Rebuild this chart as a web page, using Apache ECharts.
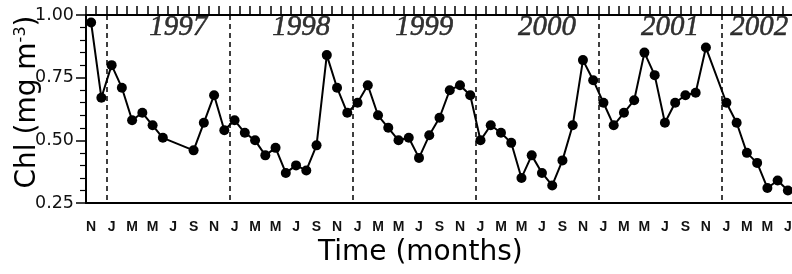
<!DOCTYPE html>
<html>
<head>
<meta charset="utf-8">
<script src="https://cdn.jsdelivr.net/npm/echarts@6/dist/echarts.min.js"></script>
<style>
  html, body { margin: 0; padding: 0; background: #fff; }
  #chart { width: 792px; height: 274px; }
</style>
</head>
<body>
<div id="chart"></div>
<script>
// monthly categories: Nov 1996 .. Jul 2002
var startYear = 1996, startMonth = 11, monthCount = 69;
var monthLetters = ['J', 'F', 'M', 'A', 'M', 'J', 'J', 'A', 'S', 'O', 'N', 'D'];

// Chl (mg m-3), one value per month, null = no data
var chl = [
  0.97, 0.67,
  0.80, 0.71, 0.58, 0.61, 0.56, 0.51, null, null, 0.46, 0.57, 0.68, 0.54,
  0.58, 0.53, 0.50, 0.44, 0.47, 0.37, 0.40, 0.38, 0.48, 0.84, 0.71, 0.61,
  0.65, 0.72, 0.60, 0.55, 0.50, 0.51, 0.43, 0.52, 0.59, 0.70, 0.72, 0.68,
  0.50, 0.56, 0.53, 0.49, 0.35, 0.44, 0.37, 0.32, 0.42, 0.56, 0.82, 0.74,
  0.65, 0.56, 0.61, 0.66, 0.85, 0.76, 0.57, 0.65, 0.68, 0.69, 0.87, null,
  0.65, 0.57, 0.45, 0.41, 0.31, 0.34, 0.30
];

var years = [1997, 1998, 1999, 2000, 2001, 2002];
var yTicks = [0.25, 0.50, 0.75, 1.00];

var categories = [];
for (var i = 0; i < monthCount; i++) {
  var m = (startMonth - 1 + i) % 12;
  var y = startYear + Math.floor((startMonth - 1 + i) / 12);
  categories.push(y + '-' + (m + 1));
}

// year labels sit a little right of each year's middle (value axis in months)
var yearLabels = years.map(function (yr) {
  var start = (yr - startYear) * 12 - (startMonth - 1);
  return { value: [Math.min(start + 7, 65.7), 0.952], name: String(yr) };
});

var font = '"Liberation Sans", Arial, sans-serif';
var wide = '"DejaVu Sans", sans-serif';
var chart = echarts.init(document.getElementById('chart'));

chart.setOption({
  animation: false,
  backgroundColor: '#fff',
  title: {
    text: 'Time (months)',
    left: 313,
    top: 234,
    textStyle: { fontFamily: wide, fontSize: 28, fontWeight: 'normal', color: '#000' }
  },
  grid: { left: 86, top: 15, width: 707, height: 188, containLabel: false, outerBoundsMode: 'none' },
  xAxis: [{
    type: 'category',
    position: 'bottom',
    data: categories,
    boundaryGap: true,
    axisLine: { lineStyle: { color: '#000', width: 2 } },
    axisTick: { interval: 0, length: 8, lineStyle: { color: '#000', width: 1.5 } },
    axisLabel: {
      interval: 1,
      margin: 17,
      fontFamily: font,
      fontSize: 14,
      fontWeight: 'bold',
      color: '#111',
      formatter: function (v) { return monthLetters[Number(v.split('-')[1]) - 1]; }
    },
    splitLine: {
      show: true,
      interval: function (idx, v) { return v.split('-')[1] === '1'; },
      lineStyle: { color: '#000', width: 1.5, type: [5, 4] }
    }
  }, {
    type: 'category',
    position: 'top',
    data: categories,
    boundaryGap: true,
    axisLine: { show: true, onZero: false, lineStyle: { color: '#000', width: 2 } },
    axisTick: { show: true, interval: 0, length: 9, lineStyle: { color: '#000', width: 1.5 } },
    axisLabel: { show: false }
  }, {
    type: 'value',
    show: false,
    min: 0,
    max: monthCount
  }],
  yAxis: {
    type: 'value',
    min: yTicks[0],
    max: yTicks[yTicks.length - 1],
    interval: 0.25,
    name: '{c|Chl (mg m}{s|-3}{a|)}',
    nameLocation: 'middle',
    nameGap: 43,
    nameMoveOverlap: false,
    nameTextStyle: {
      rich: {
        c: { fontFamily: wide, fontSize: 28, color: '#000', padding: [0, 0, 0, 14] },
        a: { fontFamily: wide, fontSize: 28, color: '#000' },
        s: { fontFamily: wide, fontSize: 16, color: '#000', padding: [0, 0, 14, 0] }
      }
    },
    axisLine: { show: true, lineStyle: { color: '#000', width: 2 } },
    axisTick: { show: true, length: 10, lineStyle: { color: '#000', width: 1.5 } },
    minorTick: { show: true, splitNumber: 5, length: 6, lineStyle: { color: '#000', width: 1.2 } },
    splitLine: { show: false },
    axisLabel: {
      margin: 12,
      fontFamily: wide,
      fontSize: 17.5,
      color: '#111',
      formatter: function (v) { return v.toFixed(2); }
    }
  },
  series: [{
    type: 'line',
    xAxisIndex: 0,
    data: chl,
    connectNulls: true,
    showAllSymbol: true,
    symbol: 'circle',
    symbolSize: 10,
    itemStyle: { color: '#000' },
    lineStyle: { color: '#000', width: 2 }
  }, {
    type: 'scatter',
    xAxisIndex: 2,
    data: yearLabels,
    symbolSize: 0,
    label: {
      show: true,
      position: 'inside',
      formatter: '{b}',
      fontFamily: '"Liberation Serif", "Times New Roman", serif',
      fontStyle: 'italic',
      fontSize: 29,
      color: '#000',
      textBorderColor: '#000',
      textBorderWidth: 0.5
    }
  }]
});
</script>
</body>
</html>
